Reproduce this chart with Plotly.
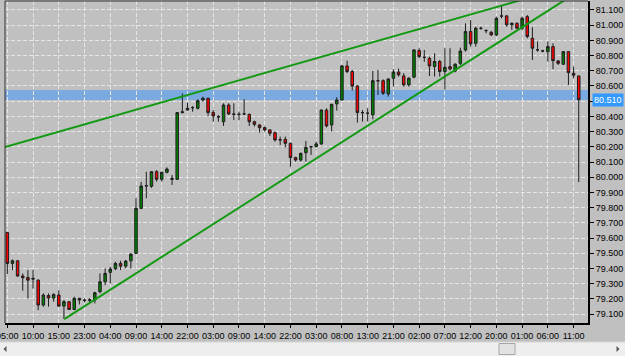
import plotly.graph_objects as go

# ---------------- data ----------------
OPEN = [79.637, 79.433, 79.450, 79.350, 79.341, 79.335, 79.323, 79.159, 79.222, 79.205,
        79.225, 79.152, 79.181, 79.130, 79.203, 79.192, 79.190, 79.192, 79.247, 79.312,
        79.374, 79.398, 79.433, 79.415, 79.450, 79.499, 79.795, 79.942, 79.940, 80.036,
        79.986, 80.032, 79.993, 79.986, 80.431, 80.442, 80.457, 80.453, 80.508, 80.519,
        80.425, 80.398, 80.365, 80.475, 80.416, 80.414, 80.416, 80.413, 80.365, 80.344,
        80.326, 80.311, 80.293, 80.245, 80.249, 80.223, 80.129, 80.113, 80.161, 80.199,
        80.201, 80.219, 80.442, 80.344, 80.482, 80.508, 80.732, 80.695, 80.600, 80.425,
        80.420, 80.410, 80.635, 80.635, 80.548, 80.651, 80.692, 80.666, 80.607, 80.658,
        80.833, 80.789, 80.782, 80.728, 80.761, 80.695, 80.727, 80.699, 80.749, 80.837,
        80.958, 80.881, 80.980, 80.965, 80.953, 80.936, 81.061, 81.061, 81.002, 81.013,
        80.980, 81.056, 80.914, 80.838, 80.831, 80.826, 80.859, 80.765, 80.743, 80.826,
        80.684, 80.666]
HIGH = [79.640, 79.459, 79.455, 79.367, 79.389, 79.389, 79.328, 79.236, 79.236, 79.236,
        79.257, 79.192, 79.186, 79.214, 79.207, 79.203, 79.205, 79.247, 79.367, 79.400,
        79.411, 79.444, 79.450, 79.455, 79.499, 79.861, 79.970, 80.036, 80.040, 80.047,
        80.036, 80.065, 80.014, 80.428, 80.552, 80.490, 80.468, 80.512, 80.530, 80.523,
        80.442, 80.409, 80.486, 80.486, 80.486, 80.431, 80.512, 80.420, 80.372, 80.348,
        80.333, 80.315, 80.300, 80.267, 80.267, 80.227, 80.135, 80.161, 80.238, 80.206,
        80.234, 80.445, 80.453, 80.480, 80.526, 80.739, 80.767, 80.706, 80.603, 80.442,
        80.453, 80.701, 80.706, 80.644, 80.651, 80.710, 80.714, 80.684, 80.658, 80.842,
        80.848, 80.837, 80.793, 80.815, 80.771, 80.848, 80.848, 80.750, 80.852, 81.012,
        81.034, 80.991, 80.991, 80.973, 80.962, 81.056, 81.133, 81.067, 81.017, 81.017,
        81.056, 81.067, 80.986, 80.892, 80.838, 80.892, 80.881, 80.771, 80.830, 80.828,
        80.727, 80.668]
LOW = [79.363, 79.389, 79.345, 79.253, 79.203, 79.268, 79.126, 79.148, 79.148, 79.181,
       79.148, 79.067, 79.126, 79.126, 79.163, 79.177, 79.177, 79.170, 79.236, 79.290,
       79.301, 79.389, 79.389, 79.400, 79.400, 79.494, 79.790, 79.861, 79.930, 79.971,
       79.971, 80.025, 79.949, 79.982, 80.420, 80.438, 80.431, 80.446, 80.497, 80.403,
       80.365, 80.365, 80.337, 80.409, 80.376, 80.376, 80.409, 80.337, 80.333, 80.293,
       80.300, 80.271, 80.234, 80.212, 80.196, 80.069, 80.102, 80.102, 80.102, 80.146,
       80.197, 80.212, 80.328, 80.300, 80.438, 80.504, 80.684, 80.570, 80.359, 80.366,
       80.366, 80.381, 80.541, 80.541, 80.530, 80.596, 80.662, 80.596, 80.596, 80.651,
       80.782, 80.760, 80.666, 80.662, 80.662, 80.578, 80.700, 80.690, 80.738, 80.826,
       80.859, 80.859, 80.969, 80.947, 80.929, 80.929, 81.045, 80.991, 80.969, 80.973,
       80.969, 80.914, 80.771, 80.826, 80.822, 80.760, 80.710, 80.738, 80.738, 80.607,
       80.651, 79.968]
CLOSE = [79.433, 79.450, 79.350, 79.339, 79.323, 79.330, 79.159, 79.225, 79.205, 79.229,
         79.152, 79.181, 79.130, 79.203, 79.192, 79.190, 79.193, 79.240, 79.312, 79.367,
         79.396, 79.433, 79.415, 79.448, 79.494, 79.795, 79.942, 79.944, 80.036, 79.986,
         80.032, 80.054, 79.986, 80.425, 80.425, 80.453, 80.458, 80.503, 80.519, 80.425,
         80.403, 80.396, 80.475, 80.416, 80.414, 80.413, 80.416, 80.365, 80.348, 80.326,
         80.311, 80.289, 80.245, 80.246, 80.223, 80.129, 80.113, 80.157, 80.196, 80.201,
         80.219, 80.442, 80.337, 80.480, 80.508, 80.732, 80.695, 80.600, 80.425, 80.424,
         80.421, 80.635, 80.634, 80.552, 80.646, 80.692, 80.673, 80.607, 80.651, 80.837,
         80.793, 80.788, 80.732, 80.761, 80.695, 80.723, 80.712, 80.743, 80.830, 80.958,
         80.877, 80.980, 80.979, 80.964, 80.936, 81.045, 81.060, 81.002, 81.013, 80.980,
         81.045, 80.925, 80.848, 80.837, 80.830, 80.859, 80.767, 80.749, 80.826, 80.688,
         80.671, 80.510]
BARS = list(range(len(OPEN)))

TICK_LABELS = ["05:00", "10:00", "15:00", "23:00", "04:00", "09:00", "14:00", "22:00",
               "03:00", "09:00", "14:00", "22:00", "03:00", "08:00", "13:00", "21:00",
               "02:00", "07:00", "12:00", "20:00", "01:00", "06:00", "11:00"]
TICK_BARS = [5 * i for i in range(len(TICK_LABELS))]

Y_TICKS = [round(79.1 + 0.1 * i, 1) for i in range(21)]

# trend lines (bar index, price)
UPPER_X = [-0.45, 100.0]
UPPER_Y = [80.199, 81.167]
LOWER_X = [11.07, 108.6]
LOWER_Y = [79.067, 81.172]

# highlighted level band and current price
BAND = [80.508, 80.574]
LAST_PRICE = 80.510

# ---------------- layout constants ----------------
W, H = 625, 356
ML, MR, MT, MB = 5, 37, 1, 33
X_RANGE = [-0.45, 112.8]
Y_RANGE = [79.041, 81.159]
BG = "#c0c0c0"

fig = go.Figure()

fig.add_trace(go.Candlestick(
    x=BARS, open=OPEN, high=HIGH, low=LOW, close=CLOSE,
    increasing=dict(fillcolor="#008000", line=dict(color="#1e1e1e", width=1)),
    decreasing=dict(fillcolor="#ff0000", line=dict(color="#1e1e1e", width=1)),
    whiskerwidth=0, showlegend=False, hoverinfo="skip",
))

for xs, ys in ((UPPER_X, UPPER_Y), (LOWER_X, LOWER_Y)):
    fig.add_trace(go.Scatter(x=xs, y=ys, mode="lines",
                             line=dict(color="#139a13", width=2),
                             showlegend=False, hoverinfo="skip"))

# blue level band
fig.add_shape(type="rect", xref="x domain", yref="y", x0=0, x1=1,
              y0=BAND[0], y1=BAND[1], fillcolor="#7aaae0", line=dict(width=0),
              layer="below")

# frame: left and top thin lines
fig.add_shape(type="line", xref="paper", yref="paper", x0=0, x1=0, y0=0, y1=1,
              line=dict(color="#333333", width=1))
fig.add_shape(type="line", xref="paper", yref="paper", x0=0, x1=1, y0=1, y1=1,
              line=dict(color="#333333", width=1))

# scrollbar at bottom
pw = W - ML - MR
ph = H - MT - MB
def px(xp):
    return (xp - ML) / pw
def py(yp):
    return (H - MB - yp) / ph

fig.add_shape(type="rect", xref="paper", yref="paper",
              x0=px(-2), x1=px(W + 2), y0=py(342), y1=py(H + 2),
              fillcolor="#eeeeee", line=dict(width=0))
fig.add_shape(type="line", xref="paper", yref="paper",
              x0=px(-2), x1=px(W + 2), y0=py(342), y1=py(342),
              line=dict(color="#d6d6d6", width=1))
fig.add_shape(type="rect", xref="paper", yref="paper",
              x0=px(499), x1=px(515), y0=py(343.5), y1=py(354.5),
              fillcolor="#e2e2e2", line=dict(color="#a8a8a8", width=1))
fig.add_shape(type="path", xref="paper", yref="paper",
              path=f"M {px(3.5)},{py(349)} L {px(6.5)},{py(346)} L {px(6.5)},{py(352)} Z",
              fillcolor="#555555", line=dict(width=0))
fig.add_shape(type="path", xref="paper", yref="paper",
              path=f"M {px(619.5)},{py(349)} L {px(616.5)},{py(346)} L {px(616.5)},{py(352)} Z",
              fillcolor="#555555", line=dict(width=0))

# current price label (replaces the hidden 80.500 tick label)
fig.add_annotation(xref="paper", yref="y", x=px(592), y=LAST_PRICE,
                   xanchor="left", yanchor="middle", showarrow=False,
                   text=f"{LAST_PRICE:.3f}", bgcolor="#3399ff",
                   font=dict(color="white", size=9, family="Liberation Sans, Arial"),
                   borderpad=1)

y_text = ["" if abs(v - 80.5) < 1e-9 else f"{v:.3f}" for v in Y_TICKS]

fig.update_layout(
    width=W, height=H,
    margin=dict(l=ML, r=MR, t=MT, b=MB, autoexpand=False),
    paper_bgcolor=BG, plot_bgcolor=BG,
    font=dict(family="Liberation Sans, Arial", size=9, color="black"),
    showlegend=False,
    xaxis=dict(
        range=X_RANGE, rangeslider=dict(visible=False), automargin=False,
        tickmode="array", tickvals=TICK_BARS, ticktext=TICK_LABELS,
        ticklabeloverflow="allow",
        showgrid=True, gridcolor="#e6e6e6", griddash="4px,2px", gridwidth=1,
        showline=True, linecolor="black", linewidth=2,
        ticks="outside", ticklen=3, tickcolor="black", tickangle=0,
        zeroline=False, fixedrange=True,
    ),
    yaxis=dict(
        range=Y_RANGE, side="right", automargin=False,
        tickmode="array", tickvals=Y_TICKS, ticktext=y_text,
        ticklabeloverflow="allow",
        showgrid=True, gridcolor="#e6e6e6", griddash="4px,2px", gridwidth=1,
        showline=True, linecolor="black", linewidth=2,
        ticks="outside", ticklen=4, tickcolor="black",
        zeroline=False, fixedrange=True,
    ),
)

fig.write_html("out.html")
